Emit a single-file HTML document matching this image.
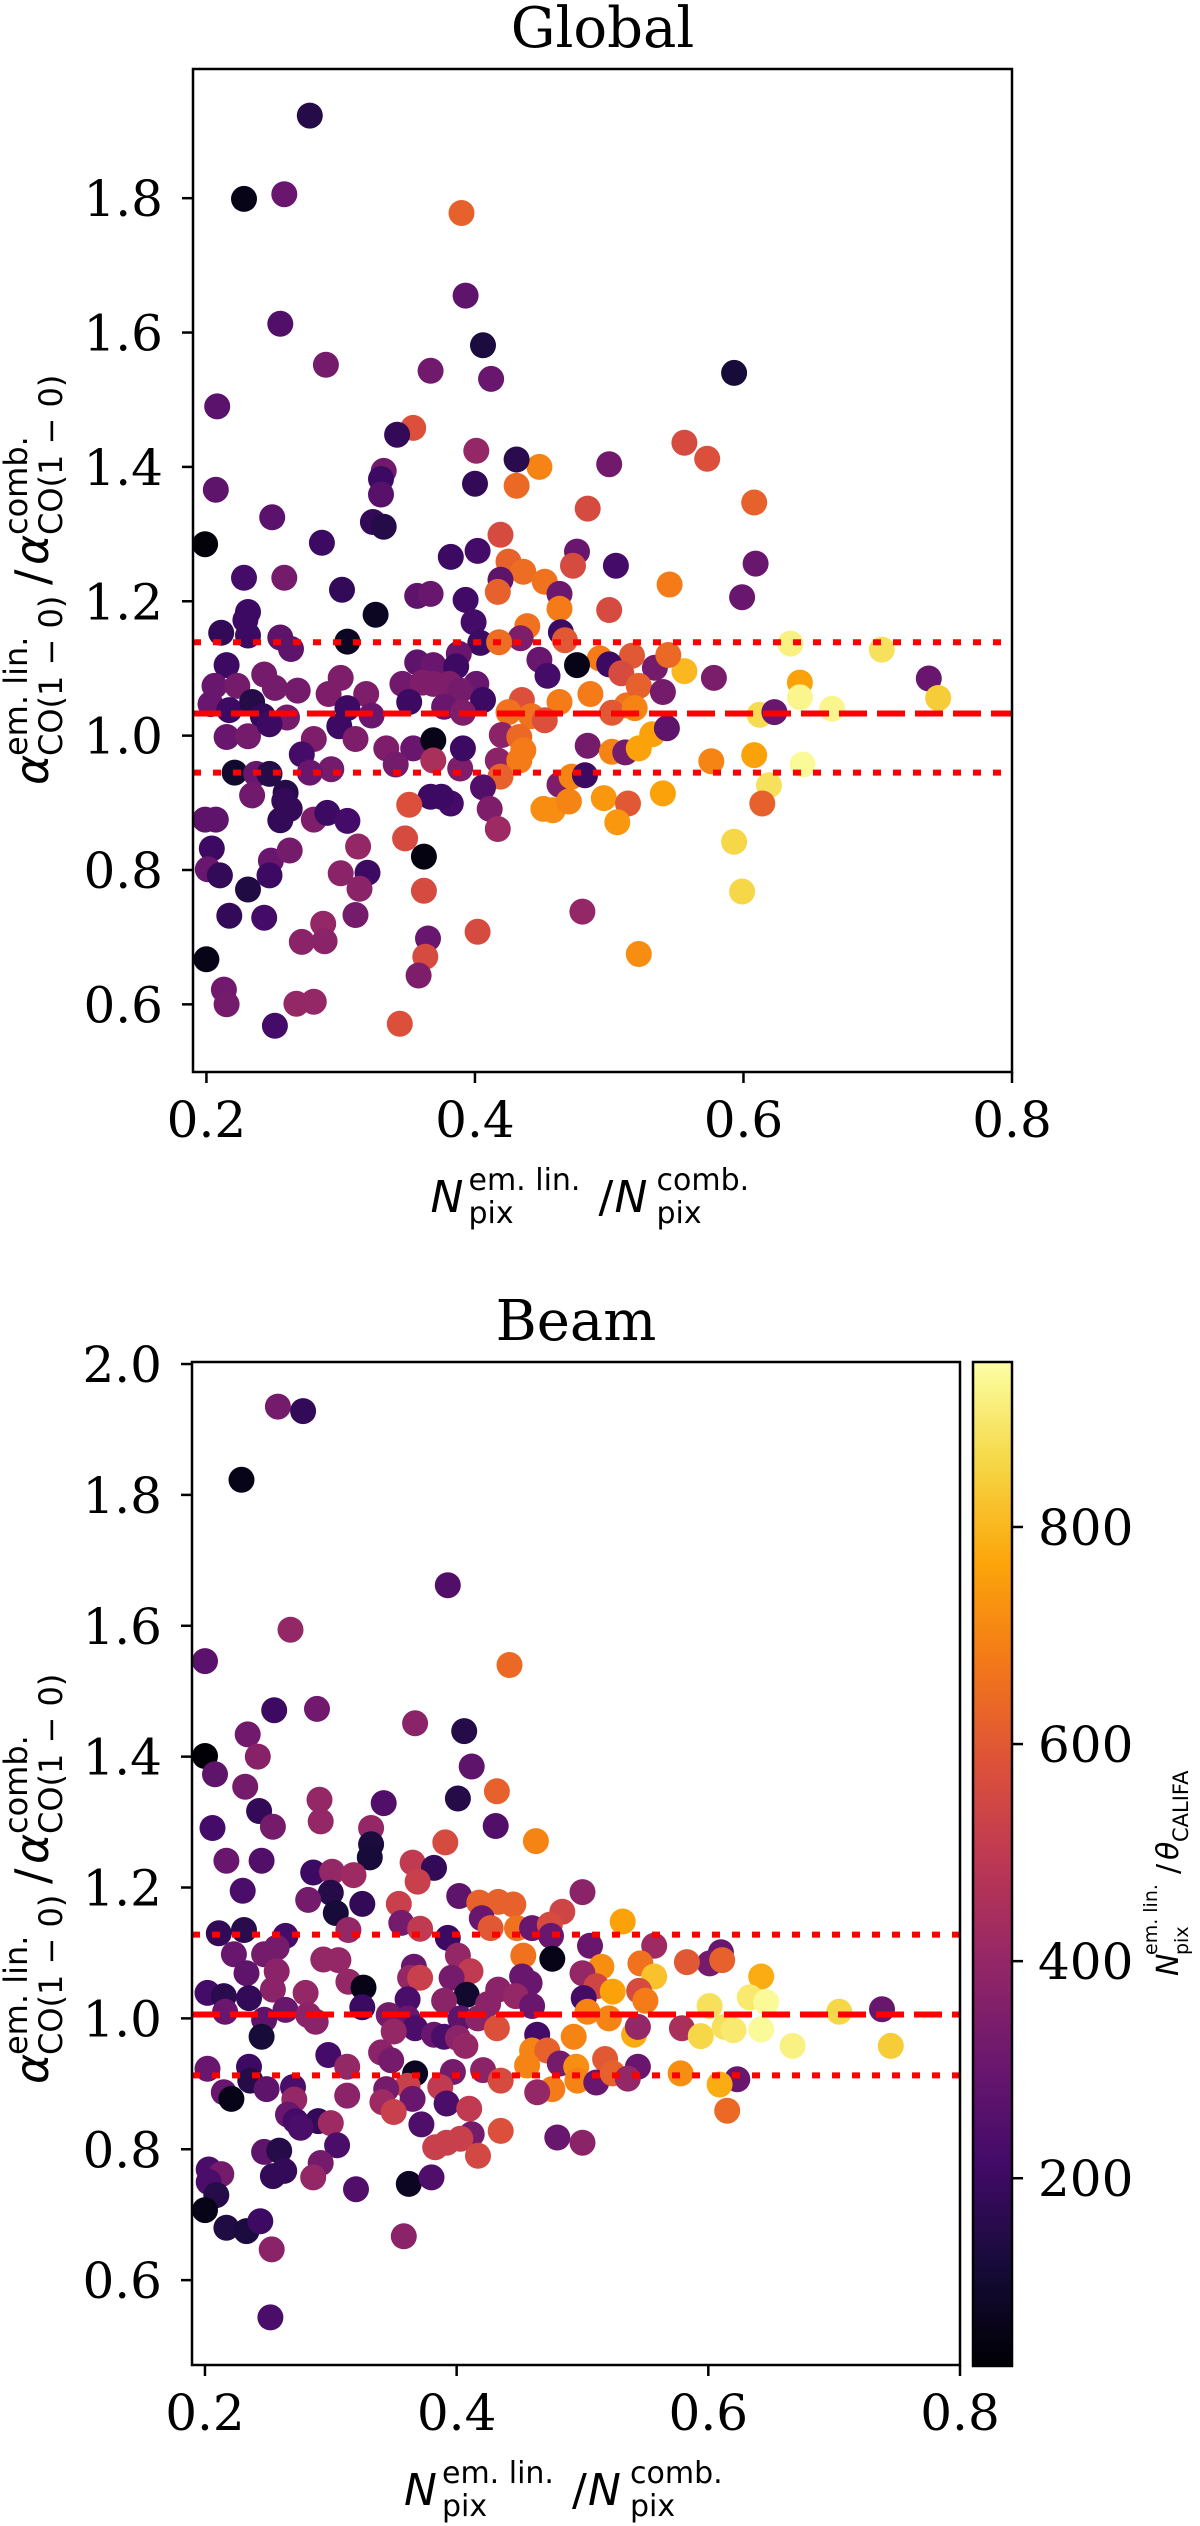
<!DOCTYPE html>
<html><head><meta charset="utf-8"><title>Global / Beam scatter</title>
<style>
html,body{margin:0;padding:0;background:#fff;}
svg{display:block;}
text{fill:#000;}
.tick{font-family:"DejaVu Serif","Liberation Serif",serif;font-size:50px;}
.title{font-family:"DejaVu Serif","Liberation Serif",serif;font-size:56px;}
.lab{font-family:"DejaVu Sans","Liberation Sans",sans-serif;}
</style></head>
<body>
<svg id="fig" xmlns="http://www.w3.org/2000/svg" width="1200" height="2526" viewBox="0 0 1200 2526">
<defs>
<linearGradient id="inferno" x1="0" y1="1" x2="0" y2="0">
<stop offset="0" stop-color="rgb(0,0,4)"/><stop offset="0.1" stop-color="rgb(22,11,57)"/>
<stop offset="0.2" stop-color="rgb(66,10,104)"/><stop offset="0.3" stop-color="rgb(106,23,110)"/>
<stop offset="0.4" stop-color="rgb(147,38,103)"/><stop offset="0.5" stop-color="rgb(188,55,84)"/>
<stop offset="0.6" stop-color="rgb(221,81,58)"/><stop offset="0.7" stop-color="rgb(243,120,25)"/>
<stop offset="0.8" stop-color="rgb(252,165,10)"/><stop offset="0.9" stop-color="rgb(246,215,70)"/>
<stop offset="1" stop-color="rgb(252,255,164)"/>
</linearGradient>
</defs>
<g id="top"></g>
<g id="bot"></g>
<g id="cbar"></g>
</svg>
<script>
// ---- Global panel data ----
const topX = [0.277,0.228,0.258,0.390,0.393,0.255,0.406,0.593,0.367,0.289,0.412,0.208,0.354,0.342,0.556,0.573,0.500,0.448,0.431,0.401,0.400,0.431,0.207,0.332,0.330,0.330,0.608,0.484,0.249,0.324,0.332,0.199,0.286,0.419,0.402,0.382,0.476,0.425,0.473,0.609,0.505,0.436,0.452,0.419,0.228,0.258,0.545,0.417,0.301,0.357,0.367,0.393,0.463,0.599,0.500,0.463,0.231,0.326,0.229,0.399,0.439,0.464,0.211,0.231,0.255,0.305,0.434,0.404,0.418,0.467,0.493,0.517,0.263,0.388,0.635,0.703,0.215,0.357,0.369,0.386,0.448,0.476,0.500,0.534,0.556,0.544,0.454,0.509,0.578,0.738,0.745,0.642,0.642,0.666,0.612,0.623,0.206,0.223,0.243,0.251,0.268,0.300,0.291,0.319,0.346,0.361,0.369,0.381,0.401,0.389,0.435,0.463,0.486,0.513,0.522,0.540,0.203,0.217,0.234,0.242,0.260,0.305,0.323,0.351,0.377,0.406,0.391,0.425,0.442,0.452,0.502,0.519,0.215,0.231,0.247,0.280,0.299,0.311,0.334,0.354,0.369,0.420,0.433,0.436,0.484,0.502,0.512,0.532,0.522,0.543,0.576,0.608,0.619,0.644,0.221,0.237,0.247,0.271,0.293,0.277,0.341,0.369,0.389,0.391,0.417,0.433,0.419,0.463,0.472,0.482,0.234,0.259,0.258,0.262,0.280,0.290,0.305,0.255,0.367,0.382,0.375,0.351,0.406,0.411,0.417,0.451,0.458,0.470,0.496,0.514,0.506,0.540,0.614,0.593,0.599,0.199,0.207,0.204,0.201,0.210,0.231,0.248,0.247,0.262,0.313,0.320,0.300,0.314,0.311,0.348,0.362,0.362,0.217,0.243,0.365,0.287,0.271,0.288,0.402,0.480,0.522,0.363,0.358,0.200,0.213,0.215,0.267,0.280,0.251,0.344];
const topY = [1.923,1.799,1.806,1.778,1.655,1.613,1.581,1.540,1.543,1.552,1.531,1.490,1.458,1.448,1.436,1.412,1.404,1.400,1.411,1.424,1.375,1.372,1.366,1.394,1.382,1.359,1.347,1.338,1.325,1.318,1.311,1.285,1.287,1.299,1.275,1.266,1.274,1.259,1.253,1.256,1.253,1.244,1.229,1.232,1.235,1.235,1.225,1.214,1.217,1.208,1.211,1.202,1.211,1.206,1.187,1.189,1.184,1.180,1.172,1.169,1.163,1.154,1.153,1.149,1.146,1.140,1.145,1.138,1.139,1.142,1.115,1.119,1.129,1.122,1.137,1.128,1.105,1.109,1.105,1.103,1.113,1.105,1.106,1.101,1.096,1.120,1.089,1.093,1.086,1.085,1.056,1.079,1.057,1.040,1.031,1.035,1.074,1.074,1.091,1.071,1.067,1.086,1.062,1.062,1.077,1.079,1.077,1.077,1.077,1.067,1.053,1.050,1.062,1.045,1.074,1.065,1.047,1.038,1.050,1.029,1.027,1.041,1.030,1.050,1.043,1.053,1.034,1.035,1.029,1.023,1.034,1.041,0.998,0.999,1.017,0.995,1.014,0.995,0.981,0.981,0.993,1.001,0.998,0.978,0.985,0.976,0.975,1.002,0.981,1.011,0.962,0.971,0.926,0.957,0.945,0.943,0.943,0.972,0.950,0.945,0.957,0.963,0.951,0.981,0.963,0.963,0.939,0.927,0.939,0.941,0.911,0.915,0.903,0.891,0.875,0.885,0.873,0.874,0.909,0.899,0.909,0.897,0.923,0.891,0.861,0.891,0.889,0.902,0.907,0.899,0.871,0.914,0.899,0.842,0.768,0.875,0.875,0.832,0.801,0.792,0.771,0.814,0.792,0.829,0.835,0.796,0.795,0.772,0.733,0.847,0.820,0.769,0.732,0.729,0.698,0.720,0.693,0.694,0.708,0.738,0.675,0.671,0.643,0.667,0.622,0.600,0.601,0.604,0.568,0.571];
const topC = [150,60,300,620,280,250,130,120,320,330,300,270,580,180,560,580,320,700,160,400,180,640,280,320,200,260,620,560,270,180,150,40,200,560,220,200,300,620,560,300,220,650,660,280,220,330,680,620,180,280,300,210,310,300,560,680,200,80,200,220,660,200,180,200,280,80,350,200,650,600,680,600,280,300,920,880,200,280,300,200,300,60,200,330,800,640,220,560,340,300,840,760,930,930,870,300,300,330,330,330,330,350,350,350,320,350,350,350,300,330,580,680,680,660,620,330,300,200,150,180,330,200,300,200,300,200,350,660,660,580,600,700,300,330,200,350,200,350,350,300,60,380,640,680,330,700,330,760,760,280,700,760,880,940,100,300,150,220,330,300,330,450,350,200,380,680,620,350,700,200,320,150,180,180,350,200,220,180,200,220,200,580,250,350,420,720,720,700,740,600,740,760,620,860,860,280,280,200,300,180,140,300,200,330,400,200,380,380,330,560,50,560,180,220,300,400,380,380,560,400,720,560,350,60,320,330,400,400,220,580];
// ---- Beam panel data ----
const botX = [0.258,0.278,0.229,0.393,0.268,0.200,0.442,0.255,0.289,0.367,0.406,0.234,0.242,0.200,0.208,0.412,0.232,0.432,0.401,0.291,0.243,0.342,0.292,0.254,0.206,0.332,0.332,0.431,0.463,0.391,0.331,0.217,0.245,0.365,0.382,0.369,0.286,0.301,0.318,0.230,0.300,0.282,0.325,0.304,0.402,0.500,0.354,0.418,0.433,0.445,0.484,0.532,0.420,0.427,0.356,0.371,0.314,0.211,0.231,0.264,0.448,0.460,0.474,0.393,0.475,0.506,0.557,0.610,0.601,0.476,0.223,0.247,0.257,0.294,0.306,0.453,0.401,0.515,0.546,0.583,0.642,0.557,0.611,0.233,0.257,0.366,0.363,0.371,0.411,0.396,0.452,0.458,0.500,0.511,0.524,0.545,0.314,0.326,0.280,0.254,0.202,0.215,0.235,0.433,0.408,0.447,0.501,0.633,0.646,0.601,0.704,0.738,0.550,0.264,0.216,0.325,0.361,0.390,0.425,0.460,0.504,0.521,0.282,0.288,0.247,0.346,0.361,0.367,0.403,0.417,0.432,0.350,0.382,0.390,0.401,0.464,0.493,0.541,0.544,0.579,0.594,0.613,0.620,0.642,0.667,0.745,0.245,0.298,0.340,0.348,0.407,0.460,0.472,0.482,0.456,0.495,0.518,0.578,0.544,0.202,0.235,0.313,0.367,0.397,0.421,0.236,0.249,0.270,0.215,0.221,0.361,0.387,0.435,0.476,0.496,0.511,0.524,0.536,0.623,0.609,0.464,0.271,0.313,0.344,0.365,0.341,0.350,0.392,0.410,0.615,0.266,0.272,0.290,0.300,0.276,0.372,0.435,0.412,0.480,0.500,0.305,0.383,0.392,0.403,0.417,0.247,0.259,0.263,0.254,0.292,0.286,0.203,0.213,0.203,0.209,0.200,0.320,0.362,0.380,0.217,0.233,0.244,0.253,0.358,0.252];
const botY = [1.935,1.928,1.823,1.662,1.594,1.546,1.540,1.471,1.473,1.451,1.439,1.434,1.400,1.401,1.373,1.385,1.354,1.347,1.336,1.334,1.317,1.329,1.301,1.293,1.291,1.291,1.266,1.294,1.271,1.269,1.246,1.241,1.241,1.238,1.230,1.209,1.223,1.224,1.219,1.195,1.192,1.181,1.175,1.161,1.187,1.193,1.175,1.177,1.178,1.174,1.163,1.148,1.153,1.138,1.146,1.137,1.135,1.130,1.135,1.126,1.138,1.138,1.143,1.123,1.126,1.111,1.111,1.101,1.084,1.091,1.098,1.098,1.108,1.090,1.089,1.096,1.096,1.079,1.084,1.086,1.064,1.064,1.089,1.069,1.072,1.079,1.062,1.062,1.072,1.062,1.064,1.054,1.069,1.049,1.041,1.042,1.056,1.047,1.039,1.044,1.039,1.034,1.031,1.044,1.036,1.034,1.031,1.032,1.025,1.019,1.010,1.014,1.027,1.013,1.010,1.017,1.029,1.027,1.022,1.019,1.010,1.000,1.005,0.995,0.998,1.005,1.000,0.985,1.000,1.000,0.985,0.980,0.975,0.972,0.970,0.975,0.972,0.975,0.987,0.985,0.973,0.987,0.982,0.983,0.958,0.958,0.972,0.944,0.948,0.936,0.958,0.951,0.951,0.931,0.928,0.926,0.938,0.916,0.926,0.923,0.926,0.926,0.916,0.918,0.921,0.905,0.892,0.895,0.887,0.877,0.897,0.895,0.905,0.892,0.905,0.902,0.916,0.908,0.907,0.899,0.887,0.876,0.882,0.892,0.877,0.872,0.857,0.870,0.862,0.859,0.853,0.843,0.843,0.840,0.833,0.838,0.828,0.823,0.818,0.810,0.806,0.803,0.810,0.816,0.790,0.796,0.798,0.767,0.759,0.779,0.757,0.769,0.762,0.750,0.730,0.707,0.739,0.747,0.757,0.680,0.675,0.690,0.647,0.667,0.543];
const botC = [330,180,60,250,400,270,640,200,320,380,150,320,370,30,280,280,330,620,150,400,180,250,400,330,220,400,130,250,700,560,120,300,250,500,180,520,200,400,420,230,150,330,180,120,280,380,520,620,620,620,540,760,300,600,330,500,400,180,160,220,660,300,560,200,300,300,420,300,330,60,300,330,330,400,400,660,400,720,660,600,780,820,620,280,380,300,400,520,500,330,300,300,400,540,760,560,400,60,400,380,220,160,180,380,100,400,220,900,940,880,860,300,680,300,300,200,230,380,380,300,700,700,380,380,280,330,300,230,280,380,580,400,300,230,380,220,700,780,400,450,860,880,900,940,920,840,120,220,380,330,400,700,620,330,700,720,600,720,300,300,200,400,80,330,380,150,280,230,300,60,520,500,560,680,700,300,620,400,300,780,400,400,380,330,300,420,520,230,500,640,300,220,180,420,230,240,580,330,300,380,230,520,520,520,550,280,150,180,180,330,400,230,330,230,150,60,250,80,240,140,130,200,380,380,230];
// ---- shared reference lines and ticks ----
const topLines = [1.033, 1.139, 0.945];
const botLines = [1.006, 1.128, 0.913];
const xTicks = [0.2, 0.4, 0.6, 0.8];
const topYTicks = [0.6, 0.8, 1.0, 1.2, 1.4, 1.6, 1.8];
const botYTicks = [0.6, 0.8, 1.0, 1.2, 1.4, 1.6, 1.8, 2.0];
const cbarTicks = [200, 400, 600, 800];
const cMin = 27, cMax = 952;

const NS = "http://www.w3.org/2000/svg";
const stops = [[0,0,4],[22,11,57],[66,10,104],[106,23,110],[147,38,103],[188,55,84],[221,81,58],[243,120,25],[252,165,10],[246,215,70],[252,255,164]];
function inferno(v){
  let t = Math.max(0, Math.min(1, (v - cMin) / (cMax - cMin))) * 10;
  let i = Math.min(9, Math.floor(t)), f = t - i;
  const a = stops[i], b = stops[i+1];
  return "rgb(" + a.map((c,k)=>Math.round(c + (b[k]-c)*f)).join(",") + ")";
}
function mk(tag, attrs, parent){
  const e = document.createElementNS(NS, tag);
  for (const k in attrs) e.setAttribute(k, attrs[k]);
  parent.appendChild(e);
  return e;
}
function lin(d0,d1,r0,r1){ return v => r0 + (v-d0)/(d1-d0)*(r1-r0); }

function panel(g, cfg){
  const X = lin(cfg.xd[0], cfg.xd[1], cfg.L, cfg.R);
  const Y = lin(cfg.yd[0], cfg.yd[1], cfg.B, cfg.T);
  for (let i = 0; i < cfg.xs.length; i++){
    const c = mk("circle", {cx: X(cfg.xs[i]).toFixed(1), cy: Y(cfg.ys[i]).toFixed(1), r: 13, fill: inferno(cfg.cs[i])}, g);
    
    
  }
  cfg.lines.forEach((v, j) => {
    const l = mk("line", {x1: cfg.L, x2: cfg.R, y1: Y(v), y2: Y(v), stroke: "#ff0000", "stroke-width": 6,
      "stroke-dasharray": j === 0 ? "28 10" : "8 12"}, g);
    
    
  });
  const fr = mk("rect", {x: cfg.L, y: cfg.T, width: cfg.R - cfg.L, height: cfg.B - cfg.T, fill: "none", stroke: "#000", "stroke-width": 2.5}, g);
  
  
  xTicks.forEach(v => {
    const x = X(v);
    mk("line", {x1: x, x2: x, y1: cfg.B, y2: cfg.B + 11, stroke: "#000", "stroke-width": 2.5}, g);
    const t = mk("text", {x: x, y: cfg.B + 65, "text-anchor": "middle", class: "tick"}, g);
    t.textContent = v.toFixed(1);
    
    
  });
  cfg.yt.forEach(v => {
    const y = Y(v);
    mk("line", {x1: cfg.L - 11, x2: cfg.L, y1: y, y2: y, stroke: "#000", "stroke-width": 2.5}, g);
    const t = mk("text", {x: cfg.L - 30, y: y + 18, "text-anchor": "end", class: "tick"}, g);
    t.textContent = v.toFixed(1);
    
    
  });
  const ti = mk("text", {x: (cfg.L + cfg.R) / 2, y: cfg.T - 22, "text-anchor": "middle", class: "title"}, g);
  ti.textContent = cfg.title;
  
  
  const xl = mk("g", {class: "lab", transform: "translate(" + ((cfg.L + cfg.R)/2 - 172) + "," + (cfg.B + 140) + ")"}, g);
  
  
  xl.innerHTML = '<text x="0" y="0" font-size="44" font-style="italic">N</text>' +
    '<text x="38" y="-22" font-size="30">em. lin.</text><text x="38" y="11" font-size="30">pix</text>' +
    '<text x="168" y="0" font-size="44">/</text><text x="184" y="0" font-size="44" font-style="italic">N</text>' +
    '<text x="226" y="-22" font-size="30">comb.</text><text x="226" y="11" font-size="30">pix</text>';
  const yl = mk("g", {class: "lab", transform: "translate(0," + (cfg.yc + 212) + ") rotate(-90)"}, g);
  
  
  yl.innerHTML = '<text x="0" y="48" font-size="46" font-style="italic">α</text>' +
    '<text x="29" y="27" font-size="32">em. lin.</text><text x="29" y="62" font-size="32">CO(1 − 0)</text>' +
    '<text x="200" y="48" font-size="46">/</text><text x="220" y="48" font-size="46" font-style="italic">α</text>' +
    '<text x="250" y="27" font-size="32">comb.</text><text x="250" y="62" font-size="32">CO(1 − 0)</text>';
}

panel(document.getElementById("top"), {L:193, R:1012, T:69, B:1072, xd:[0.19,0.8], yd:[0.4993,1.9923],
  xs: topX, ys: topY, cs: topC, lines: topLines, yt: topYTicks, title: "Global", yc: 573});
panel(document.getElementById("bot"), {L:192, R:960, T:1362, B:2365, xd:[0.1897,0.8], yd:[0.4703,2.0031],
  xs: botX, ys: botY, cs: botC, lines: botLines, yt: botYTicks, title: "Beam", yc: 1872});

(function(){
  const g = document.getElementById("cbar");
  const T = 1362, B = 2366, L = 973, R = 1012;
  const Y = lin(cMin, cMax, B, T);
  const r = mk("rect", {x: L, y: T, width: R - L, height: B - T, fill: "url(#inferno)", stroke: "#000", "stroke-width": 2.5}, g);
  
  
  cbarTicks.forEach(v => {
    const y = Y(v);
    mk("line", {x1: R, x2: R + 11, y1: y, y2: y, stroke: "#000", "stroke-width": 2.5}, g);
    const t = mk("text", {x: R + 26, y: y + 18, class: "tick"}, g);
    t.textContent = v;
    
    
  });
  const cl = mk("g", {class: "lab", transform: "translate(0,1976) rotate(-90)"}, g);
  
  
  cl.innerHTML = '<text x="0" y="1178" font-size="30" font-style="italic">N</text>' +
    '<text x="21" y="1157" font-size="19">em. lin.</text><text x="21" y="1188" font-size="19">pix</text>' +
    '<text x="102" y="1178" font-size="30">/</text><text x="116" y="1178" font-size="30" font-style="italic">θ</text>' +
    '<text x="134" y="1188" font-size="21">CALIFA</text>';
})();
</script>
</body></html>
